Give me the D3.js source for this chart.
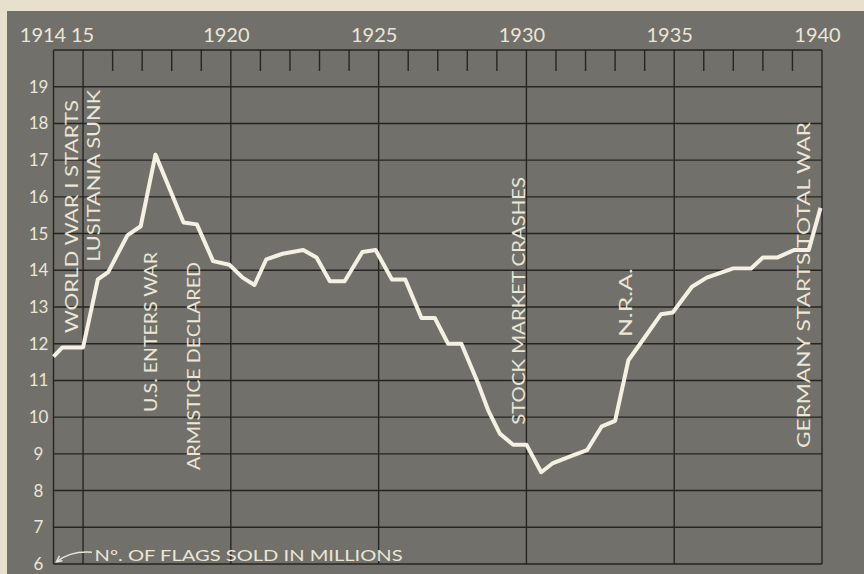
<!DOCTYPE html>
<html>
<head>
<meta charset="utf-8">
<script src="https://cdn.jsdelivr.net/npm/d3@7"></script>
<style>
  html, body { margin:0; padding:0; background:#e6e0cd; }
  svg { display:block; }
  text { font-family: Lato, "Open Sans", sans-serif; fill:#ebe6d6; }
</style>
</head>
<body>
<svg id="chart"></svg>
<script>
const WIDTH = 864, HEIGHT = 574;

// flags sold in millions (roughly every half year)
const years = [1914.0, 1914.3, 1915.0, 1915.5, 1915.85, 1916.5, 1916.95, 1917.45, 1918.4, 1918.85,
               1919.4, 1919.95, 1920.4, 1920.8, 1921.2, 1921.75, 1922.45, 1922.9, 1923.35, 1923.85,
               1924.45, 1924.9, 1925.45, 1925.9, 1926.45, 1926.9, 1927.35, 1927.8, 1928.35, 1928.7,
               1929.1, 1929.55, 1930.0, 1930.5, 1930.9, 1931.55, 1932.05, 1932.55, 1933.0, 1933.45,
               1933.85, 1934.55, 1934.95, 1935.6, 1936.1, 1937.0, 1937.6, 1938.0, 1938.5, 1939.05,
               1939.55, 1939.95];
const flagsSold = [11.65, 11.9, 11.9, 13.75, 13.95, 14.95, 15.2, 17.15, 15.3, 15.25,
                   14.25, 14.15, 13.8, 13.6, 14.3, 14.45, 14.55, 14.35, 13.7, 13.7,
                   14.5, 14.55, 13.75, 13.75, 12.7, 12.7, 12.0, 12.0, 10.95, 10.2,
                   9.55, 9.25, 9.25, 8.5, 8.75, 8.95, 9.1, 9.75, 9.9, 11.55,
                   12.0, 12.8, 12.85, 13.55, 13.8, 14.05, 14.05, 14.35, 14.35, 14.55,
                   14.55, 15.7];

const yearTicks = [1914, 1915, 1920, 1925, 1930, 1935, 1940];
const yearLabels = ["1914", "15", "1920", "1925", "1930", "1935", "1940"];
const valueTicks = [6, 7, 8, 9, 10, 11, 12, 13, 14, 15, 16, 17, 18, 19];

const events = ["WORLD WAR I STARTS", "LUSITANIA SUNK", "U.S. ENTERS WAR", "ARMISTICE DECLARED",
                "STOCK MARKET CRASHES", "N.R.A.", "GERMANY STARTS TOTAL WAR"];
const eventYears = [1914.83, 1915.57, 1917.5, 1918.96, 1929.95, 1933.58, 1939.6];
// label layout: value at the foot of the text, text length in px
const eventLayout = [
  {foot: 12.29, len: 233}, {foot: 14.23, len: 172}, {foot: 10.14, len: 160},
  {foot: 8.56, len: 208}, {foot: 9.79, len: 248}, {foot: 12.18, len: 69}, {foot: 9.16, len: 326}
];

const svg = d3.select('#chart').attr('width', WIDTH).attr('height', HEIGHT);

const x = d3.scaleLinear().domain([1914, 1940]).range([53.5, 822]);
const y = d3.scaleLinear().domain([6, 20]).range([564, 50]);

// dark card
svg.append('rect').attr('x', 7).attr('y', 11).attr('width', WIDTH - 7).attr('height', HEIGHT - 11)
   .attr('fill', '#71706a');

const grid = svg.append('g').attr('stroke', '#262523').attr('stroke-width', 1.4);

// horizontal rules, one per million
grid.selectAll('line.h').data(d3.range(6, 21)).join('line').attr('class', 'h')
    .attr('x1', x(1914)).attr('x2', x(1940))
    .attr('y1', d => y(d)).attr('y2', d => y(d));

// full height year lines
grid.selectAll('line.v').data(yearTicks).join('line').attr('class', 'v')
    .attr('x1', d => x(d)).attr('x2', d => x(d))
    .attr('y1', y(20)).attr('y2', y(6));

// short year ticks along the top
const minor = d3.range(1916, 1940).filter(d => d % 5 != 0);
grid.selectAll('line.t').data(minor).join('line').attr('class', 't')
    .attr('x1', d => x(d)).attr('x2', d => x(d))
    .attr('y1', y(20)).attr('y2', y(20) + 21);

// axes, text only
const xAxis = svg.append('g').attr('transform', 'translate(0,' + (y(20) - 8) + ')')
    .call(d3.axisTop(x).tickValues(yearTicks).tickFormat((d, i) => yearLabels[i]).tickSize(0).tickPadding(0));
xAxis.select('.domain').remove();
xAxis.selectAll('text').attr('fill', '#ebe6d6').attr('font-size', 20)
     .attr('font-family', 'Lato, sans-serif').attr('dx', (d, i) => i == 0 ? -11 : (i == 1 ? -1 : -5));

const yAxis = svg.append('g').attr('transform', 'translate(' + (x(1914) - 15) + ',0)')
    .call(d3.axisLeft(y).tickValues(valueTicks).tickSize(0).tickPadding(0));
yAxis.select('.domain').remove();
yAxis.selectAll('text').attr('fill', '#ebe6d6').attr('font-size', 17)
     .attr('font-family', 'Lato, sans-serif').attr('text-anchor', 'middle');

// event labels, reading upward
svg.append('g').selectAll('text').data(events).join('text')
   .attr('transform', (d, i) => 'translate(' + x(eventYears[i]) + ',' + y(eventLayout[i].foot) + ') rotate(-90)')
   .attr('font-size', 17)
   .attr('textLength', (d, i) => eventLayout[i].len)
   .attr('lengthAdjust', 'spacingAndGlyphs')
   .text(d => d);

// the curve
const line = d3.line().x((d, i) => x(years[i])).y(d => y(d));
svg.append('path').datum(flagsSold)
   .attr('d', line)
   .attr('fill', 'none')
   .attr('stroke', '#f4f0e4')
   .attr('stroke-width', 4)
   .attr('stroke-linejoin', 'round');

// caption with arrow to the "6"
svg.append('text').attr('x', x(1915.39)).attr('y', y(6.08))
   .attr('font-size', 15).attr('textLength', 308).attr('lengthAdjust', 'spacingAndGlyphs')
   .text('Nº. OF FLAGS SOLD IN MILLIONS');

const p0 = [x(1915.3), y(6.32)], p1 = [x(1914.1), y(6.06)];
const arrow = d3.path();
arrow.moveTo(p0[0], p0[1]);
arrow.bezierCurveTo(p0[0] - 18, p0[1] - 1, p1[0] + 8, p1[1] - 6, p1[0], p1[1]);
svg.append('path').attr('d', arrow.toString()).attr('fill', 'none')
   .attr('stroke', '#ebe6d6').attr('stroke-width', 1.5);
svg.append('path')
   .attr('d', 'M' + (p1[0] + 6) + ',' + (p1[1] - 1) + 'L' + p1[0] + ',' + p1[1] + 'L' + (p1[0] + 3) + ',' + (p1[1] - 6))
   .attr('fill', 'none').attr('stroke', '#ebe6d6').attr('stroke-width', 1.5);
</script>
</body>
</html>
